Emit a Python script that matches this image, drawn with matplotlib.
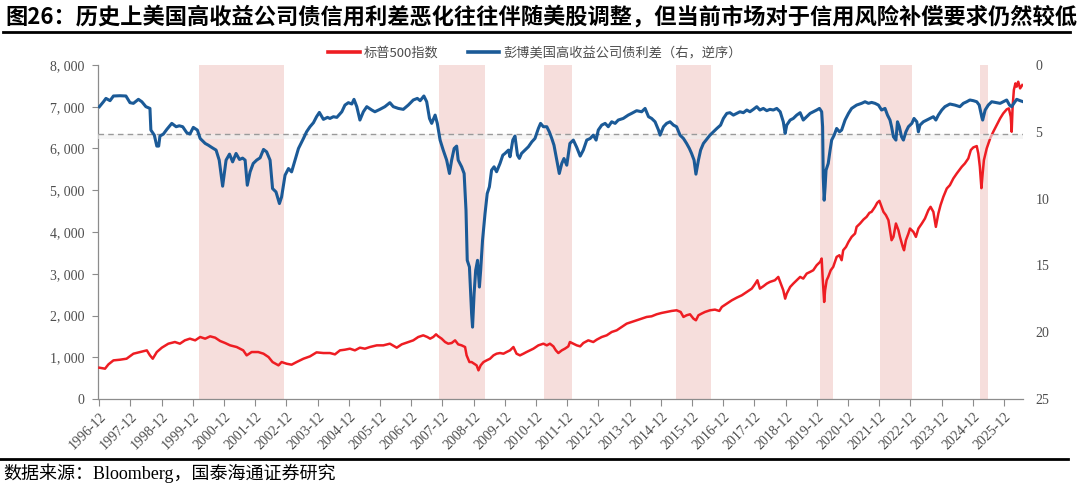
import matplotlib
matplotlib.use("Agg")
import matplotlib.pyplot as plt
from matplotlib.lines import Line2D
from matplotlib.ticker import FuncFormatter

# ---------------- data (decimal years) ----------------
title = "图26：历史上美国高收益公司债信用利差恶化往往伴随美股调整，但当前市场对于信用风险补偿要求仍然较低"
source = "数据来源：Bloomberg，国泰海通证券研究"
sp_label = "标普500指数"
hy_label = "彭博美国高收益公司债利差（右，逆序）"

tick_years = list(range(1996, 2026))
tick_labels = [f"{y}-12" for y in tick_years]

shade_start = [2000.12, 2007.81, 2011.16, 2015.41, 2020.01, 2021.94, 2025.15]
shade_end = [2002.85, 2009.28, 2012.08, 2016.52, 2020.43, 2022.95, 2025.41]

ref_spread = 5.2

hy_dates = [
    1996.92, 1997.05, 1997.13, 1997.26, 1997.37, 1997.58, 1997.77, 1997.90, 1998.01, 1998.17,
    1998.28, 1998.41, 1998.54, 1998.57, 1998.68, 1998.76, 1998.82, 1998.86, 1998.97, 1999.08,
    1999.24, 1999.38, 1999.48, 1999.59, 1999.72, 1999.82, 1999.93, 2000.06, 2000.15, 2000.31,
    2000.41, 2000.52, 2000.66, 2000.76, 2000.87, 2000.98, 2001.09, 2001.19, 2001.30, 2001.41,
    2001.51, 2001.59, 2001.66, 2001.75, 2001.85, 2001.96, 2002.07, 2002.18, 2002.28, 2002.39,
    2002.47, 2002.58, 2002.69, 2002.76, 2002.87, 2002.98, 2003.08, 2003.19, 2003.30, 2003.46,
    2003.56, 2003.67, 2003.78, 2003.88, 2003.97, 2004.10, 2004.23,
    2004.31, 2004.42, 2004.53, 2004.69, 2004.79, 2004.90, 2005.01, 2005.08, 2005.17, 2005.27,
    2005.38, 2005.49, 2005.65, 2005.75, 2005.91, 2006.07, 2006.23, 2006.34, 2006.50, 2006.66,
    2006.82, 2006.98, 2007.11, 2007.20, 2007.32, 2007.41, 2007.50, 2007.57, 2007.68, 2007.75,
    2007.84, 2007.94, 2008.05, 2008.14, 2008.21, 2008.29, 2008.37, 2008.42, 2008.53, 2008.61,
    2008.67, 2008.71, 2008.78, 2008.85, 2008.88, 2008.93, 2008.98, 2009.04, 2009.10, 2009.14,
    2009.20, 2009.28, 2009.35, 2009.42, 2009.49, 2009.57, 2009.65, 2009.76, 2009.85, 2009.92,
    2010.03, 2010.08, 2010.17, 2010.24, 2010.32, 2010.38, 2010.45, 2010.56, 2010.67, 2010.78,
    2010.88, 2010.99, 2011.06, 2011.15, 2011.26, 2011.34, 2011.42, 2011.49, 2011.58, 2011.66,
    2011.74, 2011.81, 2011.90,
    2012.00, 2012.11, 2012.22, 2012.33, 2012.43, 2012.54, 2012.65, 2012.75, 2012.84, 2012.91,
    2013.02, 2013.13, 2013.23, 2013.34, 2013.45, 2013.55, 2013.71, 2013.87, 2013.98, 2014.14,
    2014.30, 2014.41, 2014.52, 2014.62, 2014.73, 2014.84, 2014.89, 2015.00, 2015.10, 2015.21,
    2015.32, 2015.42, 2015.53, 2015.64, 2015.74, 2015.83, 2015.90, 2015.98, 2016.04, 2016.12,
    2016.19, 2016.28, 2016.38, 2016.49, 2016.60, 2016.71, 2016.83, 2016.92, 2017.03, 2017.13,
    2017.24, 2017.35, 2017.45, 2017.56, 2017.67, 2017.77, 2017.88, 2017.99, 2018.09, 2018.20,
    2018.31, 2018.41, 2018.52, 2018.63, 2018.74, 2018.84, 2018.90, 2018.95, 2019.06, 2019.16,
    2019.27, 2019.38, 2019.48, 2019.59,
    2019.70, 2019.80, 2019.91, 2020.00, 2020.07, 2020.10, 2020.12, 2020.15, 2020.18, 2020.21,
    2020.28, 2020.34, 2020.39, 2020.47, 2020.55, 2020.64, 2020.71, 2020.82, 2020.93, 2021.03,
    2021.19, 2021.35, 2021.46, 2021.57, 2021.67, 2021.78, 2021.89, 2021.99, 2022.10, 2022.18,
    2022.26, 2022.31, 2022.37, 2022.45, 2022.50, 2022.56, 2022.63, 2022.69, 2022.77, 2022.85,
    2022.96, 2023.03, 2023.12, 2023.17, 2023.22, 2023.33, 2023.44, 2023.54, 2023.65, 2023.73,
    2023.81, 2023.92, 2024.02, 2024.18, 2024.34, 2024.50, 2024.61, 2024.72, 2024.82, 2024.93,
    2025.04, 2025.12, 2025.20, 2025.23, 2025.31, 2025.41, 2025.52, 2025.68, 2025.79, 2025.89,
    2026.00, 2026.09, 2026.16, 2026.23, 2026.32, 2026.43, 2026.53,
]
hy_spread = [
    3.12, 2.75, 2.50, 2.67, 2.32, 2.30, 2.32, 2.82, 2.87, 2.57,
    2.75, 3.12, 3.25, 4.87, 5.25, 6.07, 6.07, 5.32, 5.17, 4.82,
    4.37, 4.62, 4.55, 4.62, 5.07, 5.17, 4.67, 4.87, 5.50, 5.87,
    6.00, 6.17, 6.37, 7.12, 9.07, 7.12, 6.67, 7.25, 6.62, 7.07,
    6.97, 7.12, 9.00, 8.00, 7.37, 7.12, 6.95, 6.32, 6.50, 7.12,
    9.25, 9.50, 10.37, 9.87, 8.25, 7.75, 8.00, 7.12, 6.25, 5.50,
    5.00, 4.62, 4.32, 3.87, 3.55, 4.07, 3.92,
    4.00, 3.87, 3.92, 3.50, 3.00, 2.82, 2.92, 2.57, 3.12, 4.12,
    3.50, 3.12, 3.37, 3.50, 3.32, 3.12, 2.82, 3.12, 3.25, 3.32,
    3.00, 2.62, 2.50, 2.67, 2.32, 2.75, 4.00, 4.37, 3.75, 4.37,
    5.62, 6.37, 7.12, 8.12, 7.12, 6.25, 6.07, 7.12, 7.62, 8.12,
    10.87, 14.62, 15.12, 18.62, 19.62, 17.12, 15.37, 14.62, 16.62, 15.37,
    13.12, 11.12, 9.62, 9.12, 7.87, 7.62, 7.99, 7.37, 6.75, 6.62,
    6.37, 6.87, 5.62, 5.32, 6.75, 6.99, 6.62, 6.37, 6.12, 5.75,
    5.50, 4.75, 4.37, 4.62, 4.62, 5.00, 5.50, 6.00, 7.12, 8.12,
    7.37, 7.00, 7.50,
    5.87, 5.62, 6.17, 6.82, 6.37, 5.62, 5.50, 5.25, 5.62, 4.87,
    4.50, 4.37, 4.62, 4.25, 4.37, 4.12, 4.00, 3.75, 3.62, 3.42,
    3.50, 3.25, 3.87, 4.00, 4.25, 4.87, 5.25, 4.62, 4.37, 4.25,
    4.50, 4.62, 5.25, 5.50, 5.87, 6.25, 6.62, 7.12, 8.17, 7.12,
    6.37, 5.87, 5.57, 5.25, 5.00, 4.75, 4.50, 4.00, 3.62, 3.57,
    3.75, 3.62, 3.50, 3.57, 3.37, 3.50, 3.32, 3.12, 3.37, 3.25,
    3.42, 3.32, 3.37, 3.25, 3.50, 4.25, 5.12, 4.50, 4.12, 4.00,
    3.75, 3.57, 4.12, 3.87,
    3.62, 3.50, 3.37, 3.25, 3.50, 4.62, 8.37, 10.12, 9.12, 7.87,
    7.37, 6.37, 5.62, 5.25, 4.75, 5.00, 4.87, 4.12, 3.62, 3.25,
    3.00, 2.87, 2.75, 2.87, 2.80, 2.87, 3.00, 3.37, 3.25, 3.75,
    4.12, 4.62, 5.37, 5.62, 4.25, 4.62, 5.37, 5.62, 5.00, 4.62,
    4.37, 4.00, 4.25, 5.00, 4.50, 4.25, 4.12, 4.00, 3.87, 4.12,
    3.75, 3.37, 3.12, 2.92, 3.00, 3.12, 2.87, 2.75, 2.62, 2.67,
    2.75, 3.00, 3.87, 4.12, 3.37, 3.00, 2.75, 2.82, 2.87, 2.75,
    2.62, 3.00, 3.12, 2.87, 2.57, 2.67, 2.75,
]

sp_dates = [
    1996.92, 1997.10, 1997.21, 1997.37, 1997.58, 1997.79, 1998.01, 1998.22, 1998.44, 1998.54,
    1998.63, 1998.76, 1998.92, 1999.13, 1999.34, 1999.50, 1999.66, 1999.82, 1999.99, 2000.15,
    2000.31, 2000.47, 2000.63, 2000.79, 2000.95, 2001.11, 2001.32, 2001.53, 2001.64, 2001.80,
    2002.01, 2002.18, 2002.34, 2002.47, 2002.66, 2002.76, 2002.92, 2003.08, 2003.24, 2003.46,
    2003.67, 2003.88, 2004.10,
    2004.31, 2004.47, 2004.63, 2004.79, 2004.95, 2005.11, 2005.27, 2005.43, 2005.59, 2005.81,
    2006.02, 2006.23, 2006.45, 2006.61, 2006.82, 2006.98, 2007.14, 2007.30, 2007.43, 2007.52,
    2007.62, 2007.71, 2007.78, 2007.89, 2008.00, 2008.10, 2008.21, 2008.32, 2008.42, 2008.53,
    2008.64, 2008.69, 2008.78, 2008.85, 2008.93, 2009.01, 2009.07, 2009.14, 2009.23, 2009.33,
    2009.44, 2009.55, 2009.65, 2009.76, 2009.87, 2009.97, 2010.08, 2010.19, 2010.29, 2010.40,
    2010.51, 2010.61, 2010.72, 2010.83, 2010.99, 2011.15, 2011.26, 2011.36, 2011.47, 2011.55,
    2011.63, 2011.74, 2011.84, 2011.95,
    2012.00, 2012.11, 2012.22, 2012.33, 2012.43, 2012.59, 2012.75, 2012.86, 2013.02, 2013.18,
    2013.34, 2013.50, 2013.66, 2013.82, 2013.98, 2014.14, 2014.30, 2014.46, 2014.62, 2014.78,
    2014.94, 2015.10, 2015.26, 2015.42, 2015.55, 2015.64, 2015.74, 2015.85, 2015.96, 2016.04,
    2016.12, 2016.22, 2016.33, 2016.49, 2016.65, 2016.79, 2016.87, 2017.03, 2017.19, 2017.35,
    2017.51, 2017.67, 2017.83, 2017.93, 2018.01, 2018.09, 2018.20, 2018.31, 2018.41, 2018.57,
    2018.68, 2018.76, 2018.84, 2018.90, 2018.95, 2019.06, 2019.16, 2019.27, 2019.38, 2019.48,
    2019.59,
    2019.70, 2019.80, 2019.91, 2020.02, 2020.07, 2020.10, 2020.15, 2020.18, 2020.23, 2020.28,
    2020.36, 2020.44, 2020.55, 2020.64, 2020.71, 2020.76, 2020.85, 2020.93, 2021.03, 2021.14,
    2021.19, 2021.30, 2021.41, 2021.51, 2021.60, 2021.67, 2021.78, 2021.85, 2021.92, 2021.99,
    2022.05, 2022.13, 2022.21, 2022.26, 2022.31, 2022.37, 2022.45, 2022.53, 2022.58, 2022.67,
    2022.71, 2022.77, 2022.85, 2022.90, 2023.01, 2023.09, 2023.17, 2023.28, 2023.38, 2023.49,
    2023.56, 2023.65, 2023.73, 2023.81, 2023.88, 2023.97, 2024.08, 2024.18, 2024.29, 2024.40,
    2024.48, 2024.56, 2024.66, 2024.77, 2024.85, 2024.93, 2025.04, 2025.09, 2025.14, 2025.19,
    2025.23, 2025.27, 2025.36, 2025.47, 2025.57, 2025.68, 2025.79, 2025.89, 2026.00, 2026.07,
    2026.13, 2026.16, 2026.19, 2026.23, 2026.28, 2026.32, 2026.37, 2026.43, 2026.50,
]
sp_index = [
    750, 726, 830, 925, 941, 965, 1085, 1125, 1165, 1045,
    965, 1125, 1229, 1325, 1365, 1325, 1405, 1445, 1405, 1485,
    1445, 1501, 1469, 1389, 1341, 1285, 1245, 1165, 1045, 1125,
    1125, 1085, 1005, 885, 806, 885, 845, 822, 885, 965,
    1021, 1117, 1101,
    1101, 1069, 1165, 1181, 1205, 1165, 1229, 1205, 1245, 1285,
    1285, 1325, 1229, 1309, 1365, 1405, 1485, 1525, 1485, 1445,
    1485, 1549, 1501, 1445, 1365, 1325, 1341, 1405, 1309, 1285,
    1245, 1045, 885, 885, 845, 806, 686, 806, 885, 925,
    965, 1045, 1085, 1101, 1085, 1125, 1165, 1245, 1085, 1045,
    1085, 1125, 1165, 1205, 1285, 1325, 1285, 1325, 1261, 1165,
    1101, 1165, 1205, 1261,
    1365, 1325, 1285, 1261, 1341, 1405, 1365, 1421, 1485, 1525,
    1605, 1645, 1725, 1805, 1845, 1885, 1925, 1965, 1981, 2029,
    2061, 2085, 2109, 2125, 2085, 1965, 2005, 2029, 1925, 1885,
    2005, 2045, 2085, 2125, 2141, 2109, 2205, 2284, 2364, 2428,
    2484, 2564, 2644, 2748, 2844, 2644, 2700, 2764, 2804, 2844,
    2924, 2764, 2604, 2404, 2524, 2684, 2764, 2844, 2924, 2884,
    3004,
    3044, 3084, 3204, 3284, 3364, 2924, 2324, 2604, 2844, 2924,
    3084, 3164, 3404, 3444, 3324, 3563, 3643, 3763, 3883, 3963,
    4123, 4203, 4299, 4363, 4459, 4483, 4603, 4699, 4747, 4603,
    4483, 4403, 4283, 4043, 3803, 3883, 4203, 4043, 3883, 3643,
    3563, 3803, 3963, 4083, 4003, 3883, 4083, 4203, 4323, 4523,
    4603, 4483, 4123, 4443, 4643, 4842, 5042, 5122, 5282, 5402,
    5482, 5562, 5642, 5762, 5962, 6026, 6058, 5882, 5562, 5050,
    5402, 5722, 6002, 6241, 6401, 6561, 6721, 6841, 6937, 6961,
    6761, 6401, 7001, 7401, 7560, 7480, 7600, 7440, 7520,
]

# ---------------- style ----------------
RED = "#EE1D23"
BLUE = "#1B5A97"
SHADE = "#F6DEDC"
GRAY_TXT = "#4D4D4D"
AXIS_GRAY = "#8C8C8C"
SERIF = ["Liberation Serif", "Noto Sans CJK SC"]
CJK = ["Noto Sans CJK SC", "DejaVu Sans"]

W, H = 1080, 486
fig = plt.figure(figsize=(W / 100, H / 100), dpi=100)
fig.patch.set_facecolor("white")

L, R, T, B = 98, 1023, 65, 399
ax = fig.add_axes([L / W, 1 - B / H, (R - L) / W, (B - T) / H])
ax2 = ax.twinx()

ax.set_zorder(1)
ax2.set_zorder(2)
ax.patch.set_visible(False)
ax2.patch.set_visible(False)

for s, e in zip(shade_start, shade_end):
    ax.axvspan(s, e, color=SHADE, lw=0, zorder=0)

ax.plot(sp_dates, sp_index, color=RED, lw=1.8, zorder=3, label=sp_label)
ax2.plot(hy_dates, hy_spread, color=BLUE, lw=2.2, zorder=3, label=hy_label)
ax2.axhspan(ref_spread, ref_spread + 0.35, color="#EFEFEF", lw=0, zorder=1, alpha=0.6)
ax2.axhline(ref_spread, color="#9A9A9A", lw=1.0, ls=(0, (4, 3)), zorder=2)

x_lo = 1996.875
x_hi = 2026.523
ax.set_xlim(x_lo, x_hi)
ax.set_ylim(0, 8000)
ax2.set_ylim(25, 0)

tick_pos = [y + 11 / 12 for y in tick_years]
ax.set_xticks(tick_pos)
ax.set_xticklabels(tick_labels, rotation=45, ha="right", rotation_mode="anchor",
                   fontsize=10, family=SERIF, color=GRAY_TXT)
ax.tick_params(axis="x", direction="out", length=5, width=0.8, color=AXIS_GRAY, pad=3)

ax.set_yticks(range(0, 8001, 1000))
ax.yaxis.set_major_formatter(FuncFormatter(lambda v, p: f"{int(v):,}".replace(",", ", ")))
ax.tick_params(axis="y", direction="out", length=4, width=0.8, color=AXIS_GRAY, pad=6,
               labelsize=10, labelcolor=GRAY_TXT)
for lab in ax.get_yticklabels():
    lab.set_family(SERIF)

ax2.set_yticks([0, 5, 10, 15, 20, 25])
ax2.tick_params(axis="y", length=0, pad=9, labelsize=10, labelcolor=GRAY_TXT)
for lab in ax2.get_yticklabels():
    lab.set_family(SERIF)

for sp in ["top", "right"]:
    ax.spines[sp].set_visible(False)
for sp in ["left", "bottom"]:
    ax.spines[sp].set_color(AXIS_GRAY)
    ax.spines[sp].set_linewidth(0.9)
for sp in ax2.spines.values():
    sp.set_visible(False)

# legend
handles = [Line2D([], [], color=RED, lw=2.6), Line2D([], [], color=BLUE, lw=2.6)]
leg = fig.legend(handles, [sp_label, hy_label], loc="center",
                 bbox_to_anchor=(535 / W, 1 - 53 / H), ncol=2, frameon=False,
                 handlelength=2.4, handletextpad=0.3, columnspacing=2.2,
                 prop={"family": CJK, "size": 9.5})
for t in leg.get_texts():
    t.set_color(GRAY_TXT)

# title, rules, source
fig.text(5 / W, 1 - 17 / H, title, fontsize=16, fontweight="bold", family=CJK,
         va="center", ha="left", color="black")
fig.add_artist(Line2D([3 / W, 1070 / W], [1 - 32 / H, 1 - 32 / H],
                      transform=fig.transFigure, color="black", lw=2.0))
fig.add_artist(Line2D([0 / W, 1068 / W], [1 - 459 / H, 1 - 459 / H],
                      transform=fig.transFigure, color="black", lw=2.0))
fig.text(3 / W, 1 - 473 / H, source, fontsize=13, family=SERIF, va="center",
         ha="left", color="black")

fig.savefig("out.png", dpi=100)
